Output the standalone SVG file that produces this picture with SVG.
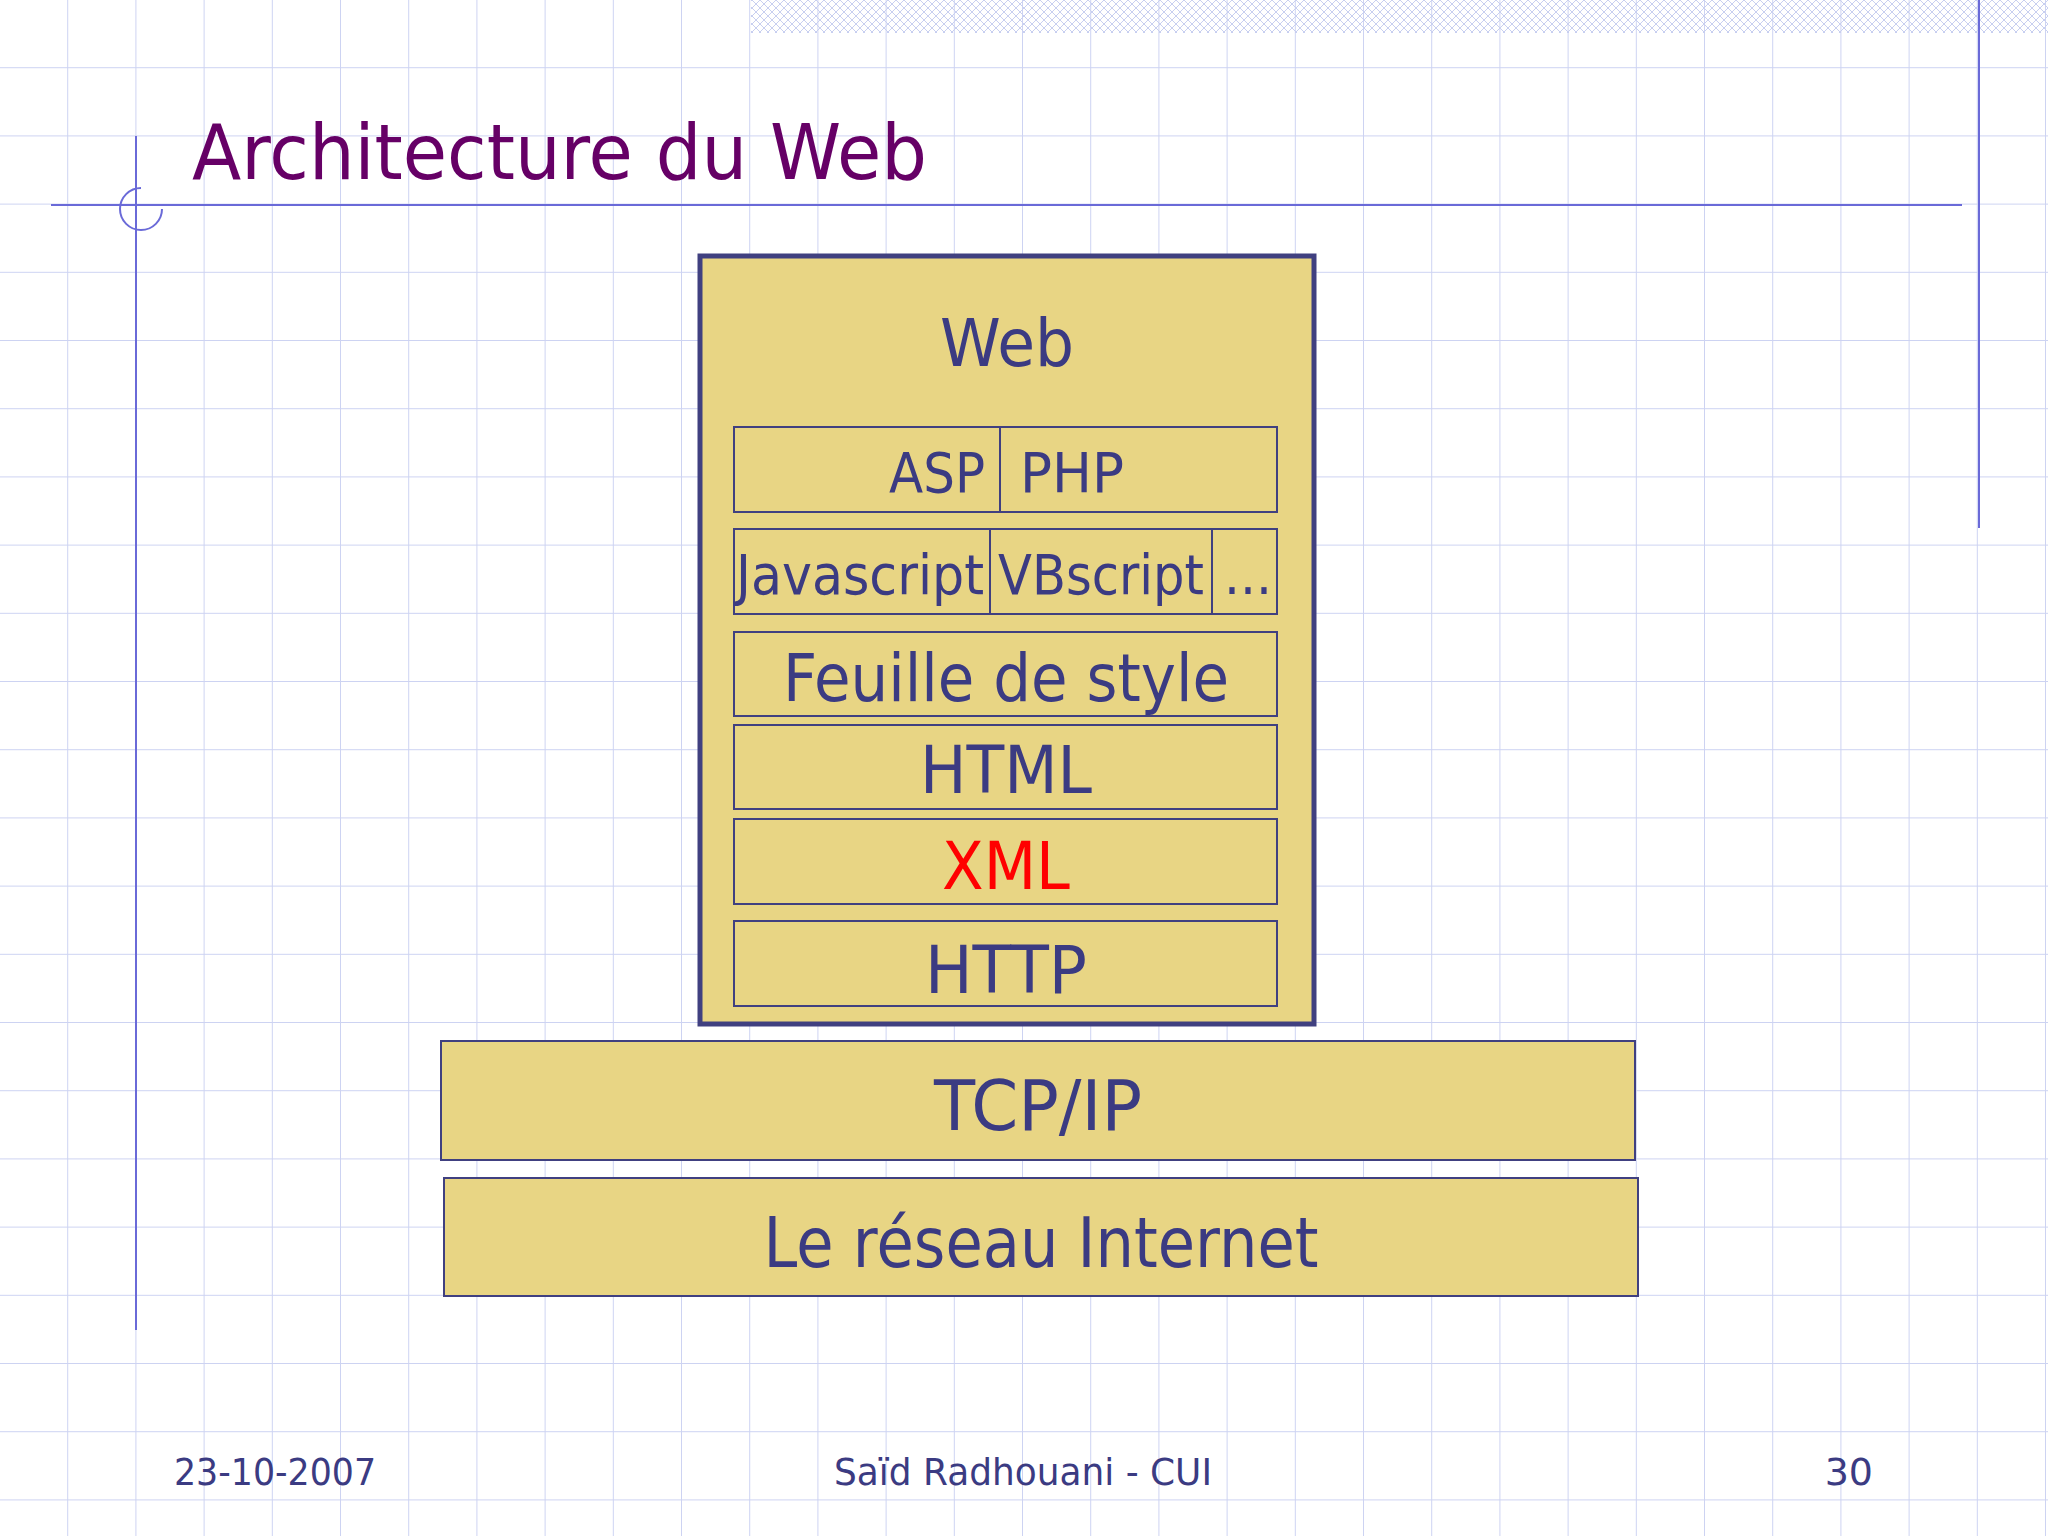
<svg xmlns="http://www.w3.org/2000/svg" width="2048" height="1536" viewBox="0 0 2048 1536">
<style>
.t{font-family:"DejaVu Sans","Liberation Sans",sans-serif;fill:#3b3b82}
.box{fill:#E8D584;stroke:#404080;stroke-width:2}
</style>
<defs>
<pattern id="grid" width="68.2" height="68.2" patternUnits="userSpaceOnUse" x="0" y="0">
<path d="M68.2 0V68.2M0 68.2H68.2" stroke="#cdd3f2" stroke-width="2" fill="none"/>
</pattern>
<pattern id="hatch" width="8" height="8" patternUnits="userSpaceOnUse">
<path d="M0 0L8 8M8 0L0 8" stroke="#c8cff0" stroke-width="1"/>
</pattern>
</defs>
<rect width="2048" height="1536" fill="#fff"/>
<rect width="2048" height="1536" fill="url(#grid)"/>
<rect x="751" y="0" width="1297" height="33" fill="url(#hatch)"/>
<line x1="51" y1="205" x2="1962" y2="205" stroke="#6a6ad8" stroke-width="2"/>
<line x1="136" y1="136" x2="136" y2="1330" stroke="#6a6ad8" stroke-width="2"/>
<line x1="1979" y1="0" x2="1979" y2="528" stroke="#6a6ad8" stroke-width="2"/>
<path d="M162 209A21 21 0 1 1 141 188M141 230A21 21 0 0 0 162 209" fill="none" stroke="#6a6ad8" stroke-width="2"/>
<text x="192" y="179" class="t" style="fill:#660066;font-size:76px" textLength="735" lengthAdjust="spacingAndGlyphs">Architecture du Web</text>
<g id="web">
<rect x="700" y="256" width="614" height="768" fill="#E8D584" stroke="#404080" stroke-width="5"/>
<text x="1007" y="366" class="t" font-size="66" text-anchor="middle" textLength="134" lengthAdjust="spacingAndGlyphs">Web</text>
</g>
<g id="asp-php">
<rect x="734" y="427" width="543" height="85" class="box"/>
<line x1="1000" y1="427" x2="1000" y2="512" stroke="#404080" stroke-width="2"/>
<text x="985" y="492" class="t" font-size="56" text-anchor="end" textLength="96" lengthAdjust="spacingAndGlyphs">ASP</text>
<text x="1020" y="492" class="t" font-size="56" textLength="104" lengthAdjust="spacingAndGlyphs">PHP</text>
</g>
<g id="scripts">
<rect x="734" y="529" width="543" height="85" class="box"/>
<line x1="990" y1="529" x2="990" y2="614" stroke="#404080" stroke-width="2"/>
<line x1="1212" y1="529" x2="1212" y2="614" stroke="#404080" stroke-width="2"/>
<text x="736" y="594" class="t" font-size="56" textLength="248" lengthAdjust="spacingAndGlyphs">Javascript</text>
<text x="998" y="594" class="t" font-size="56" textLength="206" lengthAdjust="spacingAndGlyphs">VBscript</text>
<text x="1224" y="594" class="t" font-size="56" textLength="48" lengthAdjust="spacingAndGlyphs">...</text>
</g>
<g id="css">
<rect x="734" y="632" width="543" height="84" class="box"/>
<text x="1006" y="701" class="t" font-size="66" text-anchor="middle" textLength="446" lengthAdjust="spacingAndGlyphs">Feuille de style</text>
</g>
<g id="html">
<rect x="734" y="725" width="543" height="84" class="box"/>
<text x="1006" y="793" class="t" font-size="66" text-anchor="middle" textLength="172" lengthAdjust="spacingAndGlyphs">HTML</text>
</g>
<g id="xml">
<rect x="734" y="819" width="543" height="85" class="box"/>
<text x="1006" y="889" class="t" font-size="66" text-anchor="middle" style="fill:#ff0000" textLength="128" lengthAdjust="spacingAndGlyphs">XML</text>
</g>
<g id="http">
<rect x="734" y="921" width="543" height="85" class="box"/>
<text x="1006" y="993" class="t" font-size="66" text-anchor="middle" textLength="162" lengthAdjust="spacingAndGlyphs">HTTP</text>
</g>
<g id="tcpip">
<rect x="441" y="1041" width="1194" height="119" class="box"/>
<text x="1038" y="1130" class="t" font-size="70" text-anchor="middle" textLength="208" lengthAdjust="spacingAndGlyphs">TCP/IP</text>
</g>
<g id="internet">
<rect x="444" y="1178" width="1194" height="118" class="box"/>
<text x="1041" y="1267" class="t" font-size="70" text-anchor="middle" textLength="555" lengthAdjust="spacingAndGlyphs">Le réseau Internet</text>
</g>
<g id="connectors"></g>
<text x="174" y="1485" class="t" font-size="38" textLength="202" lengthAdjust="spacingAndGlyphs">23-10-2007</text>
<text x="1023" y="1485" class="t" font-size="38" text-anchor="middle" textLength="378" lengthAdjust="spacingAndGlyphs">Saïd Radhouani - CUI</text>
<text x="1873" y="1485" class="t" font-size="38" text-anchor="end">30</text>
</svg>
